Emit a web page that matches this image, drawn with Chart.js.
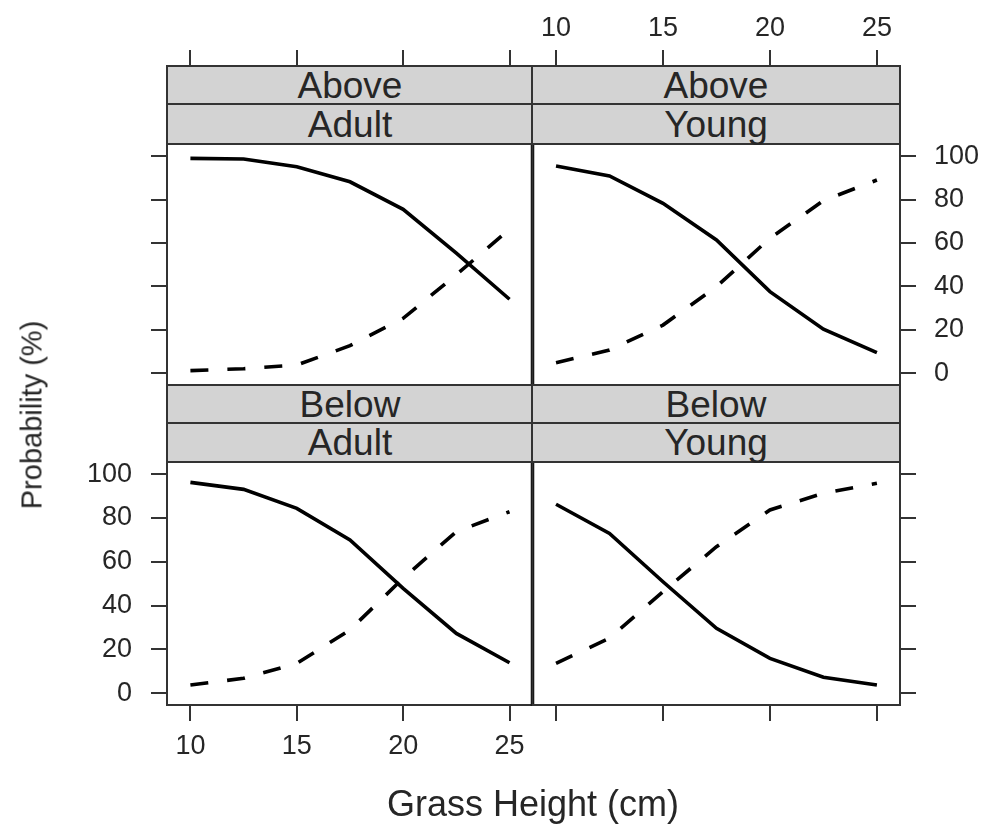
<!DOCTYPE html>
<html>
<head>
<meta charset="utf-8">
<script src="https://cdn.jsdelivr.net/npm/chart.js@4.4.0/dist/chart.umd.min.js"></script>
<style>
  html, body { margin: 0; padding: 0; background: #fff; }
  #page {
    position: relative; width: 990px; height: 825px; overflow: hidden;
    font-family: "Liberation Sans", Arial, sans-serif; color: #262626;
  }
  canvas.panel { position: absolute; left: 0; top: 0; }
  .strip {
    position: absolute; box-sizing: border-box; background: #d3d3d3;
    border: 2px solid #333; font-size: 37px; display: flex;
    align-items: center; justify-content: center; line-height: 1;
  }
  .title { position: absolute; white-space: nowrap; line-height: 1; }
</style>
</head>
<body>
<div id="page">
  <canvas class="panel" id="pTL" width="990" height="825"></canvas>
  <canvas class="panel" id="pTR" width="990" height="825"></canvas>
  <canvas class="panel" id="pBL" width="990" height="825"></canvas>
  <canvas class="panel" id="pBR" width="990" height="825"></canvas>

  <div class="strip" style="left:166px;top:65px;width:368px;height:40px;">Above</div>
  <div class="strip" style="left:166px;top:103px;width:368px;height:42px;">Adult</div>
  <div class="strip" style="left:531px;top:65px;width:370px;height:40px;">Above</div>
  <div class="strip" style="left:531px;top:103px;width:370px;height:42px;">Young</div>

  <div class="strip" style="left:166px;top:384px;width:368px;height:40px;">Below</div>
  <div class="strip" style="left:166px;top:422px;width:368px;height:41px;">Adult</div>
  <div class="strip" style="left:531px;top:384px;width:370px;height:40px;">Below</div>
  <div class="strip" style="left:531px;top:422px;width:370px;height:41px;">Young</div>

  <div class="title" id="ytitle" style="font-size:29px;left:32px;top:415px;transform:translate(-50%,-50%) rotate(-90deg);">Probability (%)</div>
  <div class="title" id="xtitle" style="font-size:36px;left:533px;top:804px;transform:translate(-50%,-50%);">Grass Height (cm)</div>
</div>

<script>
// Grass height levels (cm) and tick labels
const grassHeight = [10, 12.5, 15, 17.5, 20, 22.5, 25];
const xTickValues = [10, 15, 20, 25];
const yTickValues = [0, 20, 40, 60, 80, 100];

// Probability (%) per panel: solid and dashed curves
const aboveAdultSolid  = [99.0, 98.7, 95.1, 88.2, 75.5, 55.3, 34.1];
const aboveAdultDashed = [1.2, 2.1, 3.8, 12.7, 25.3, 45.4, 66.3];
const aboveYoungSolid  = [95.5, 90.9, 78.3, 61.4, 37.6, 20.3, 9.5];
const aboveYoungDashed = [4.9, 10.7, 22.2, 39.9, 62.2, 79.5, 89.0];
const belowAdultSolid  = [96.3, 93.1, 84.4, 70.0, 47.9, 27.3, 13.9];
const belowAdultDashed = [3.7, 6.8, 13.6, 28.9, 52.5, 73.8, 82.9];
const belowYoungSolid  = [86.3, 73.0, 50.9, 29.6, 15.9, 7.3, 3.7];
const belowYoungDashed = [13.6, 25.1, 46.4, 66.9, 83.7, 91.3, 95.9];

// Shared axis limits (padded beyond the data range)
const X_MIN = 8.9, X_MAX = 26.08;
const Y_MIN = -5.4, Y_MAX = 105.6;

const FONT = '"Liberation Sans", Arial, sans-serif';
const TEXT = '#262626';
const TICK_SIZE = 27;
const PAGE_W = 990, PAGE_H = 825;

// Draws the box around each panel and the heavy divider between columns.
// The panel top is the pixel of Y_MAX (the strips sit above it).
const panelFrame = {
  id: 'panelFrame',
  afterDraw(chart, args, opts) {
    const { left, right, bottom } = chart.chartArea;
    const top = chart.scales.y.getPixelForValue(Y_MAX);
    const ctx = chart.ctx;
    ctx.save();
    ctx.strokeStyle = '#333';
    ctx.lineWidth = 2;
    ctx.strokeRect(left, top, right - left, bottom - top);
    if (opts.divider) {
      ctx.strokeStyle = '#000';
      ctx.lineWidth = 3.5;
      ctx.beginPath();
      ctx.moveTo(right, top - 1);
      ctx.lineTo(right, bottom + 1);
      ctx.stroke();
    }
    ctx.restore();
  }
};

function toPoints(values) {
  return grassHeight.map((x, i) => ({ x: x, y: values[i] }));
}

function axisGrid() {
  return { drawOnChartArea: false, drawTicks: true, tickLength: 16, color: '#333', lineWidth: 2 };
}

// rect: panel box [left, top, right, bottom]; areaTop: top of the drawing area
// (above the strips for the upper row, so the top axis sits over the strips)
function makePanel(canvasId, rect, areaTop, xPos, yPos, showX, showY, solid, dashed, divider) {
  const [l, t, r, b] = rect;
  // y range stretched so that Y_MAX lands on the panel top, not on areaTop
  const yMax = Y_MAX + (Y_MAX - Y_MIN) * (t - areaTop) / (b - t);
  const xBox = xPos === 'top' ? areaTop : PAGE_H - b;
  const yBox = yPos === 'left' ? l : PAGE_W - r;
  return new Chart(document.getElementById(canvasId), {
    type: 'line',
    data: {
      datasets: [
        { data: toPoints(solid), borderColor: '#000', borderWidth: 3.6, tension: 0, pointRadius: 0, fill: false },
        { data: toPoints(dashed), borderColor: '#000', borderWidth: 3.6, borderDash: [18, 19], borderCapStyle: 'butt', tension: 0, pointRadius: 0, fill: false }
      ]
    },
    options: {
      responsive: false,
      animation: false,
      devicePixelRatio: 1,
      layout: {
        padding: {
          left: yPos === 'left' ? 0 : l,
          right: yPos === 'right' ? 0 : PAGE_W - r,
          top: xPos === 'top' ? 0 : areaTop,
          bottom: xPos === 'bottom' ? 0 : PAGE_H - b
        }
      },
      plugins: {
        legend: { display: false },
        tooltip: { enabled: false },
        panelFrame: { divider: divider }
      },
      scales: {
        x: {
          type: 'linear', position: xPos, min: X_MIN, max: X_MAX,
          afterFit(s) { s.height = xBox; },
          afterBuildTicks(s) { s.ticks = xTickValues.map(v => ({ value: v })); },
          grid: axisGrid(),
          border: { display: false },
          ticks: {
            display: showX, color: TEXT, font: { family: FONT, size: TICK_SIZE },
            padding: xPos === 'top' ? 5 : 9, maxRotation: 0, autoSkip: false
          }
        },
        y: {
          type: 'linear', position: yPos, min: Y_MIN, max: yMax,
          afterFit(s) { s.width = yBox; },
          afterBuildTicks(s) { s.ticks = yTickValues.map(v => ({ value: v })); },
          grid: axisGrid(),
          border: { display: false },
          ticks: {
            display: showY, color: TEXT, font: { family: FONT, size: TICK_SIZE },
            padding: yPos === 'left' ? 19 : 18, autoSkip: false
          }
        }
      }
    },
    plugins: [panelFrame]
  });
}

makePanel('pTL', [167, 144, 532.5, 385], 66, 'top', 'left', false, false, aboveAdultSolid, aboveAdultDashed, true);
makePanel('pTR', [532.5, 144, 900, 385], 66, 'top', 'right', true, true, aboveYoungSolid, aboveYoungDashed, false);
makePanel('pBL', [167, 462, 532.5, 705], 462, 'bottom', 'left', true, true, belowAdultSolid, belowAdultDashed, true);
makePanel('pBR', [532.5, 462, 900, 705], 462, 'bottom', 'right', false, false, belowYoungSolid, belowYoungDashed, false);
</script>
</body>
</html>
